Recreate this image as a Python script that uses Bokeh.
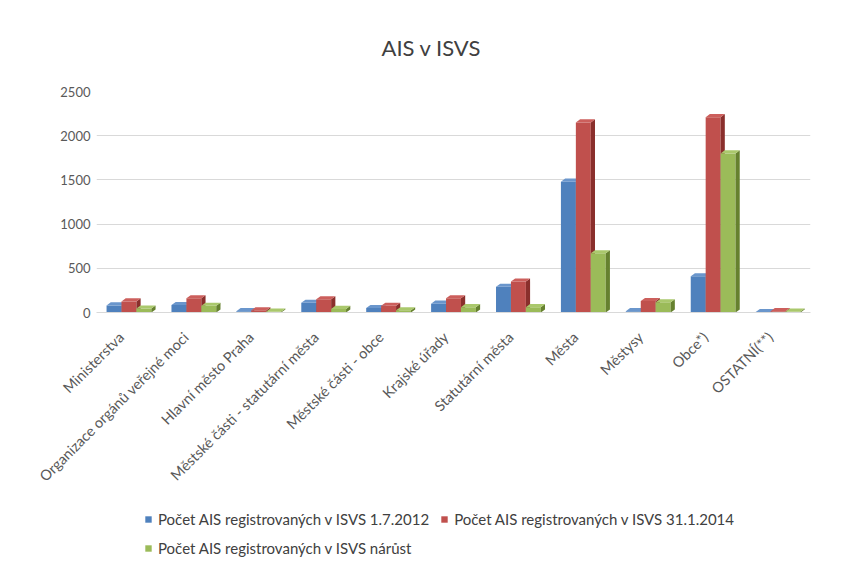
from math import pi
from bokeh.plotting import figure
from bokeh.layouts import column
from bokeh.models import ColumnDataSource, FixedTicker, Legend, LegendItem
from bokeh.embed import file_html
from bokeh.resources import INLINE

categories = ["Ministerstva", "Organizace orgánů veřejné moci", "Hlavní město Praha",
              "Městské části - statutární města", "Městské části - obce", "Krajské úřady",
              "Statutární města", "Města", "Městysy", "Obce*)", "OSTATNÍ(**)"]
s2012 = [80, 85, 15, 110, 50, 100, 290, 1480, 15, 410, 5]
s2014 = [125, 160, 25, 150, 75, 160, 350, 2150, 130, 2210, 15]
growth = [45, 75, 10, 40, 25, 60, 60, 670, 115, 1800, 10]
series_names = ["Počet AIS registrovaných v ISVS 1.7.2012",
                "Počet AIS registrovaných v ISVS 31.1.2014",
                "Počet AIS registrovaných v ISVS nárůst"]
y_ticks = [0, 500, 1000, 1500, 2000, 2500]

FONT = "Lato"
front_cols = ["#4F81BD", "#C0504D", "#9BBB59"]
top_cols = ["#6A96CC", "#CC5F5C", "#AAC86C"]
side_cols = ["#30598A", "#8A2F2C", "#66812F"]

W = 0.23    # bar width (x units)
DX = 0.065  # 3D depth (x units)
DY = 35     # 3D depth (y units)
LABEL_SHIFT = 0.12  # rotated labels end slightly left of the group centre

p = figure(width=840, height=500, output_backend="svg", toolbar_location=None,
           x_range=(-0.5, 10.5), y_range=(0, 2500),
           min_border_left=96, min_border_right=30, min_border_top=91,
           min_border_bottom=188)
p.title.text = "AIS v ISVS"
p.title.align = "left"
p.title.offset = 285
p.title.vertical_align = "bottom"
p.title.text_font = FONT
p.title.text_font_size = "22px"
p.title.text_font_style = "normal"
p.title.text_color = "#404040"
p.title.standoff = 61

p.outline_line_color = None
p.background_fill_color = "white"
p.border_fill_color = "white"
p.xgrid.grid_line_color = None
p.ygrid.grid_line_color = "#d9d9d9"
p.ygrid.ticker = FixedTicker(ticks=y_ticks)

p.yaxis.ticker = FixedTicker(ticks=y_ticks)
p.yaxis.axis_line_color = None
p.yaxis.major_tick_line_color = None
p.yaxis.major_tick_out = 0
p.yaxis.minor_tick_line_color = None
p.yaxis.major_label_text_font = FONT
p.yaxis.major_label_text_font_size = "13px"
p.yaxis.major_label_text_color = "#595959"
p.yaxis.major_label_standoff = 6

tick_pos = [i - LABEL_SHIFT for i in range(len(categories))]
p.xaxis.ticker = FixedTicker(ticks=tick_pos)
p.xaxis.major_label_overrides = {t: c for t, c in zip(tick_pos, categories)}
p.xaxis.major_label_orientation = pi / 4
p.xaxis.axis_line_color = "#d9d9d9"
p.xaxis.major_tick_line_color = None
p.xaxis.major_tick_out = 0
p.xaxis.minor_tick_line_color = None
p.xaxis.major_label_text_font = FONT
p.xaxis.major_label_text_font_size = "14.5px"
p.xaxis.major_label_text_color = "#595959"
p.xaxis.major_label_standoff = 22

all_series = [s2012, s2014, growth]
for k, vals in enumerate(all_series):
    off = (k - 1) * W
    xc = [i + off for i in range(len(vals))]
    src = ColumnDataSource(dict(x=xc, top=vals))
    p.vbar(x="x", top="top", width=W, bottom=0, source=src,
           fill_color=front_cols[k], line_color=None)
    side_xs, side_ys, top_xs, top_ys = [], [], [], []
    for x, v in zip(xc, vals):
        x0, x1 = x - W / 2, x + W / 2
        side_xs.append([x1, x1 + DX, x1 + DX, x1])
        side_ys.append([0, DY, v + DY, v])
        top_xs.append([x0, x1, x1 + DX, x0 + DX])
        top_ys.append([v, v, v + DY, v + DY])
    p.patches(xs=side_xs, ys=side_ys, fill_color=side_cols[k], line_color=None)
    p.patches(xs=top_xs, ys=top_ys, fill_color=top_cols[k], line_color=None)

# legend strip below the chart (its frame is aligned with the chart's frame)
lg = figure(width=840, height=62, output_backend="svg", toolbar_location=None,
            x_range=(-0.5, 10.5), y_range=(-2, -1), min_border=0)
lg.axis.visible = False
lg.grid.grid_line_color = None
lg.outline_line_color = None
lg.border_fill_color = "white"
items = []
for k, vals in enumerate(all_series):
    r = lg.vbar(x=list(range(len(vals))), top=vals, width=0,
                fill_color=front_cols[k], line_color=None)
    items.append(LegendItem(label=series_names[k], renderers=[r]))
legend = Legend(items=items, orientation="horizontal", ncols=2, location=(48, 5),
                label_text_font=FONT, label_text_font_size="15px",
                label_text_color="#404040", glyph_width=8, glyph_height=8,
                label_standoff=6, spacing=11, label_height=18,
                border_line_color=None, background_fill_color=None,
                margin=0, padding=4)
lg.add_layout(legend, "center")

open("out.html", "w").write(file_html(column(p, lg), INLINE))
